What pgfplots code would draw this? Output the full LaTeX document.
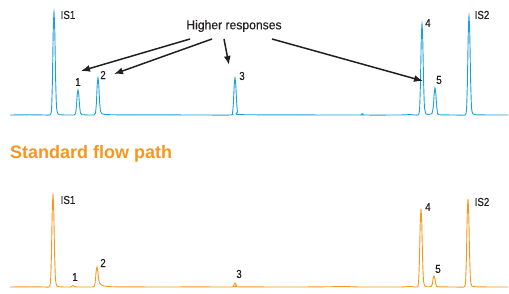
\documentclass[border=0pt]{standalone}
\usepackage{pgfplots}
\pgfplotsset{compat=1.18}
\usepackage{fontspec}
\setmainfont{Liberation Sans}
\newfontfamily\lblfont{Liberation Sans}[FakeStretch=0.85, FakeBold=0.35]
\newfontfamily\hrfont{Liberation Sans}[FakeStretch=0.95, FakeBold=0.35]
\usetikzlibrary{arrows.meta}
\definecolor{trblue}{HTML}{1AA0DE}
\definecolor{trorange}{HTML}{F7971F}
\definecolor{titleorange}{HTML}{F5961F}
\definecolor{txt}{HTML}{231F20}
\begin{document}
\begin{tikzpicture}
\begin{axis}[
  width=509pt, height=294pt, scale only axis,
  xmin=0, xmax=509, ymin=0, ymax=294,
  hide axis, clip=false,
]
\path (axis cs:0,0) rectangle (axis cs:509,294);
% top trace (improved flow path)
\addplot[trblue, line width=0.9pt, smooth, tension=0.35] coordinates {
(10,179) (30,179.2) (45,179) (50,179) (51.5,184.2) (52.4,213) (53.2,261.4) (54,282) (54.8,261.4) (55.6,216.1) (56.5,187.2) (58,180) (62,179.1)
(74,179) (75.5,180.3) (76.4,187.3) (77.2,199) (78,204) (78.8,199) (79.6,188) (80.5,181) (82,179.3)
(94,179) (95.5,180.9) (96.4,191.2) (97.2,208.6) (98,216) (98.8,208.6) (99.6,192.3) (100.5,182.5) (102,180.2) (106,179.5) (115,179.2)
(160,179.1) (200,179) (231,179) (232.5,180.9) (233.4,191.2) (234.2,208.6) (235,216) (235.8,208.6) (236.6,192.3) (237.5,182) (239,179.4)
(300,179.1) (360,179) (362,180.3) (364,179) (400,179) (410,179.4) (418,179) (419.5,183.6) (420.4,209) (421.2,251.8) (422,270) (422.8,251.8) (423.6,211.8) (424.5,186.3) (426,180.2)
(428,179.4) (430.5,180) (432,180.5) (433.4,188) (434.2,200.6) (435,206) (435.8,200.6) (436.6,188.7) (437.5,181.5) (439,179.3)
(455,179) (465,179) (466.5,184) (467.4,211.7) (468.2,258.2) (469,278) (469.8,258.2) (470.6,214.6) (471.5,186.9) (473,180) (480,179.1) (508,179)
};
% bottom trace (standard flow path)
\addplot[trorange, line width=0.9pt, smooth, tension=0.35] coordinates {
(10,7) (30,7.2) (45,7) (49,7) (50.5,11.6) (51.4,37.4) (52.2,80.6) (53,99) (53.8,80.6) (54.6,40.1) (55.5,14.4) (57,7.9) (62,7.1)
(71,7) (73,8.5) (75,7.1)
(90,7) (93,7) (94.5,8) (95.4,13.6) (96.2,23) (97,27) (97.8,23) (98.6,15) (99.5,11) (101,9.5) (103,8.3) (107,7.6) (115,7.2)
(160,7) (200,7.1) (232,7) (233.5,8.5) (235,11) (236.5,8.5) (238,7.2)
(300,7) (345,7.4) (360,7) (400,7) (410,7.5) (417,7) (418.5,10.9) (419.4,32.7) (420.2,69.4) (421,85) (421.8,69.4) (422.6,35.1) (423.5,13.2) (425,7.8)
(428,7.2) (430,7.3) (431.5,7.8) (432.4,10.6) (433.2,15.8) (434,18) (434.8,15.8) (435.6,11) (436.5,8.3) (438,7.2)
(455,7) (464,7) (465.5,11.4) (466.4,36) (467.2,77.4) (468,95) (468.8,77.4) (469.6,38.7) (470.5,14) (472,7.9) (480,7.1) (508,7)
};
% peak labels
\begin{scope}[every node/.style={font=\lblfont\fontsize{11.5}{13}\selectfont, text=txt, inner sep=0pt}]
\node at (axis cs:68,279) {IS1};
\node at (axis cs:78,212) {1};
\node at (axis cs:103,219) {2};
\node at (axis cs:242,218) {3};
\node at (axis cs:428,271) {4};
\node at (axis cs:439,214) {5};
\node at (axis cs:482,279) {IS2};
\node at (axis cs:68,94) {IS1};
\node at (axis cs:75,17) {1};
\node at (axis cs:103,31) {2};
\node at (axis cs:239,20) {3};
\node at (axis cs:428,87) {4};
\node at (axis cs:438,25) {5};
\node at (axis cs:482,92) {IS2};
\end{scope}
\node[inner sep=0pt, text=txt, font=\hrfont\fontsize{12.8}{14}\selectfont] at (axis cs:234,268) {Higher responses};
\begin{scope}[txt, line width=1.5pt, -{Latex[length=9pt,width=7pt]}]
\draw (axis cs:190,255) -- (axis cs:81,223);
\draw (axis cs:212,255) -- (axis cs:114,220);
\draw (axis cs:224,255) -- (axis cs:229,229);
\draw (axis cs:272,255) -- (axis cs:423,213);
\end{scope}
\node[anchor=west, inner sep=0pt, text=titleorange, font=\fontsize{18}{20}\selectfont\bfseries] at (axis cs:10,140.5) {Standard flow path};
\end{axis}
\end{tikzpicture}
\end{document}
